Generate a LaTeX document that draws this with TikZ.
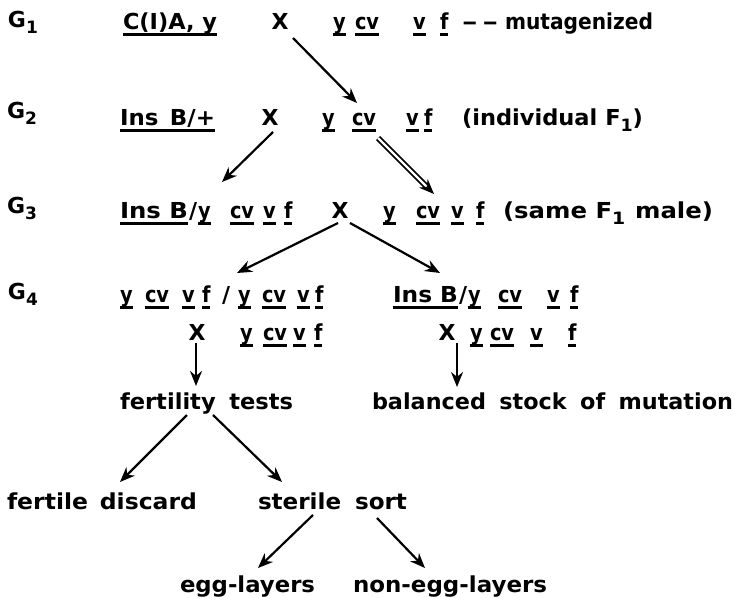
\documentclass[tikz,border=0pt]{standalone}
\usepackage{fontspec}
\setmainfont{DejaVu Sans}
\usepackage{graphicx}
\usetikzlibrary{arrows.meta,calc}

\newsavebox\fitbox
\newsavebox\ulbox
\newcommand\fitw[2]{\sbox\fitbox{#2}\scalebox{\fpeval{#1pt/(\the\wd\fitbox)}}[1]{\usebox\fitbox}}
\newcommand\ul[1]{\sbox\ulbox{#1}\rlap{\rule[-0.32em]{\wd\ulbox}{0.13em}}\usebox\ulbox}
\newcommand\gene[1]{\ul{\scalebox{0.88}[1]{#1}}}
\newcommand\sub[1]{\raisebox{-0.3em}{\fontsize{17}{17}\selectfont #1}}

\tikzset{
  txt/.style={anchor=base west, inner sep=0pt, outer sep=0pt,
    font=\fontsize{22}{26}\selectfont\bfseries},
  cross/.style={anchor=base, inner sep=0pt, outer sep=0pt,
    font=\fontsize{22}{26}\selectfont\bfseries},
  arr/.style={line width=2.2pt, -{Stealth[length=15pt,width=12pt]}},
  dbl/.style={double, double distance=2.2pt, line width=1.8pt, shorten >=9pt},
}

\begin{document}
\begin{tikzpicture}[x=1pt,y=-1pt]
\useasboundingbox (0,0) rectangle (735,597);

% generation labels
\node[txt] (G1) at (8,27) {G\sub{1}};
\node[txt] (G2) at (7,118) {G\sub{2}};
\node[txt] (G3) at (7,213) {G\sub{3}};
\node[txt] (G4) at (8,299) {G\sub{4}};

% ---------- G1 ----------
\node[txt] (c1a) at (123,29) {\ul{\fitw{94}{C(I)A, y}}};
\node[cross] (x1) at (280,29) {X};
\foreach \n/\x/\t in {a/333/y, b/355/cv, c/413/v, d/440/f}
  \node[txt] (r1\n) at (\x,29) {\gene{\t}};
\node[txt] (dash1) at (462,29) {\fitw{36}{–\,–}};
\node[txt] (mut) at (505,29) {\fitw{148}{mutagenized}};

% ---------- G2 ----------
\node[txt] (insb2) at (120,125) {\ul{\fitw{95}{Ins\hspace{0.5em}B/+}}};
\node[cross] (x2) at (270,125) {X};
\foreach \n/\x/\t in {a/322/y, b/352/cv, c/406/v, d/424/f}
  \node[txt] (r2\n) at (\x,125) {\gene{\t}};
\node[txt] (indiv) at (462,125) {\fitw{181}{(individual F\sub{1})}};

% ---------- G3 ----------
\node[txt] (insb3) at (120,218) {\ul{\fitw{68}{Ins B}}};
\node[txt] (sl3) at (189,218) {/};
\foreach \n/\x/\t in {a/198/y, b/230/cv, c/263/v, d/284/f}
  \node[txt] (l3\n) at (\x,218) {\gene{\t}};
\node[cross] (x3) at (340,218) {X};
\foreach \n/\x/\t in {a/383/y, b/416/cv, c/451/v, d/476/f}
  \node[txt] (r3\n) at (\x,218) {\gene{\t}};
\node[txt] (same) at (503,218) {\fitw{210}{(same F\sub{1}\hspace{0.4em}male)}};

% ---------- G4 ----------
\foreach \n/\x/\t in {a/120/y, b/145/cv, c/182/v, d/202/f, e/238/y, f/262/cv, g/297/v, h/315/f}
  \node[txt] (l4\n) at (\x,302) {\gene{\t}};
\node[txt] (sl4l) at (222,302) {/};
\foreach \n/\x/\t in {a/240/y, b/263/cv, c/293/v, d/314/f}
  \node[txt] (l5\n) at (\x,340) {\gene{\t}};
\node[cross] (x4l) at (197,340) {X};

\node[txt] (insb4) at (393,302) {\ul{\fitw{65}{Ins B}}};
\node[txt] (sl4r) at (459,302) {/};
\foreach \n/\x/\t in {a/468/y, b/498/cv, c/547/v, d/570/f}
  \node[txt] (r4\n) at (\x,302) {\gene{\t}};
\node[cross] (x4r) at (447,340) {X};
\foreach \n/\x/\t in {a/470/y, b/490/cv, c/530/v, d/568/f}
  \node[txt] (r5\n) at (\x,340) {\gene{\t}};

% ---------- outcomes ----------
\node[txt] (fert) at (120,409) {\fitw{173}{fertility\hspace{0.6em}tests}};
\node[txt] (bal) at (372,409) {\fitw{361}{balanced\hspace{0.6em}stock\hspace{0.6em}of\hspace{0.6em}mutation}};
\node[txt] (fdis) at (7,509) {\fitw{190}{fertile\hspace{0.5em}discard}};
\node[txt] (ster) at (258,509) {\fitw{149}{sterile\hspace{0.6em}sort}};
\node[txt] (egg) at (180,592) {\fitw{135}{egg-layers}};
\node[txt] (negg) at (353,592) {\fitw{194}{non-egg-layers}};

% ---------- connector end points ----------
\coordinate (a1s) at (293,38);  \coordinate (a1e) at (357,103);
\coordinate (a2s) at (273,132); \coordinate (a2e) at (222,182);
\coordinate (d1)  at (378,138); \coordinate (d2)  at (434,194);
\coordinate (a4s) at (338,223); \coordinate (a4e) at (237,273);
\coordinate (a5s) at (350,223); \coordinate (a5e) at (440,273);
\coordinate (a6s) at (196,343); \coordinate (a6e) at (196,386);
\coordinate (a7s) at (457,343); \coordinate (a7e) at (457,387);
\coordinate (a8s) at (187,415); \coordinate (a8e) at (120,482);
\coordinate (a9s) at (213,415); \coordinate (a9e) at (282,482);
\coordinate (a10s) at (313,515); \coordinate (a10e) at (258,568);
\coordinate (a11s) at (377,518); \coordinate (a11e) at (425,568);

\draw[arr] (a1s) -- (a1e);
\draw[arr] (a2s) -- (a2e);
\draw[dbl] (d1) -- (d2);
\draw[arr] ($(d2)!10pt!(d1)$) -- (d2);
\draw[arr] (a4s) -- (a4e);
\draw[arr] (a5s) -- (a5e);
\draw[arr] (a6s) -- (a6e);
\draw[arr] (a7s) -- (a7e);
\draw[arr] (a8s) -- (a8e);
\draw[arr] (a9s) -- (a9e);
\draw[arr] (a10s) -- (a10e);
\draw[arr] (a11s) -- (a11e);
\end{tikzpicture}
\end{document}
